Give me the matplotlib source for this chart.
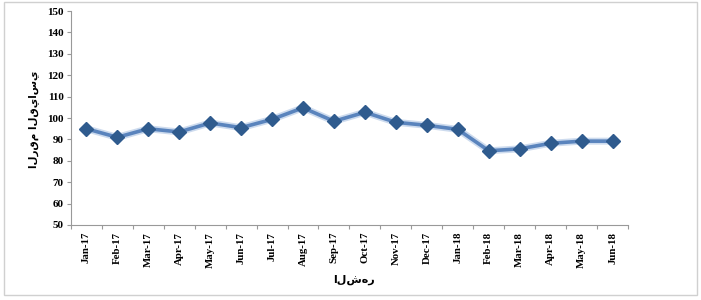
import matplotlib
matplotlib.use('Agg')
import matplotlib.pyplot as plt
import matplotlib.patheffects as pe
from matplotlib.patches import Rectangle

months = ['Jan-17', 'Feb-17', 'Mar-17', 'Apr-17', 'May-17', 'Jun-17',
          'Jul-17', 'Aug-17', 'Sep-17', 'Oct-17', 'Nov-17', 'Dec-17',
          'Jan-18', 'Feb-18', 'Mar-18', 'Apr-18', 'May-18', 'Jun-18']
index_values = [95.0, 91.0, 95.0, 93.5, 97.7, 95.5,
                99.4, 104.8, 98.5, 102.7, 98.0, 96.6,
                94.7, 84.7, 85.6, 88.2, 89.2, 89.2]
y_ticks = [50, 60, 70, 80, 90, 100, 110, 120, 130, 140, 150]

y_label = 'الرقم القياسي'
x_label = 'الشهر'

fig = plt.figure(figsize=(7.01, 3.0), dpi=100)
ax = fig.add_axes([0.101, 0.25, 0.795, 0.713])

# light outer frame, like the pasted excel chart
fig.patches.append(Rectangle((0.006, 0.017), 0.988, 0.976, transform=fig.transFigure,
                             fill=False, edgecolor='#d0d0d0', linewidth=1.0))

x = list(range(len(months)))
ax.plot(x, index_values, color='#5a84bd', linewidth=2.6, zorder=3,
        path_effects=[pe.Stroke(linewidth=5, foreground='#cddbee'), pe.Normal()])
ax.plot(x, index_values, linestyle='none', marker='D', markersize=7,
        color='#2f5b8e', markeredgecolor='#2f5b8e', zorder=4)

ax.set_xlim(-0.5, len(months) - 0.5)
ax.set_ylim(50, 150)
ax.set_yticks(y_ticks)
ax.set_yticklabels([str(v) for v in y_ticks], fontfamily='Liberation Serif',
                   fontweight='bold', fontsize=8)

ax.set_xticks([i - 0.5 for i in range(len(months) + 1)])
ax.set_xticklabels([])
ax.set_xticks(x, minor=True)
ax.set_xticklabels(months, minor=True, rotation=90, fontfamily='Liberation Serif',
                   fontweight='bold', fontsize=7.8)
ax.tick_params(axis='x', which='minor', length=0, pad=5)
ax.tick_params(axis='x', which='major', length=3, direction='out', color='#999999')
ax.tick_params(axis='y', length=3, direction='out', color='#999999', pad=2)

for s in ['top', 'right']:
    ax.spines[s].set_visible(False)
for s in ['left', 'bottom']:
    ax.spines[s].set_color('#999999')
    ax.spines[s].set_linewidth(0.8)

fig.text(0.048, 0.603, y_label, rotation=90, ha='center', va='center',
         fontfamily='DejaVu Sans', fontweight='bold', fontsize=7.5)
fig.text(0.505, 0.068, x_label, ha='center', va='center',
         fontfamily='DejaVu Sans', fontweight='bold', fontsize=8)

fig.savefig('out.png', dpi=100)
